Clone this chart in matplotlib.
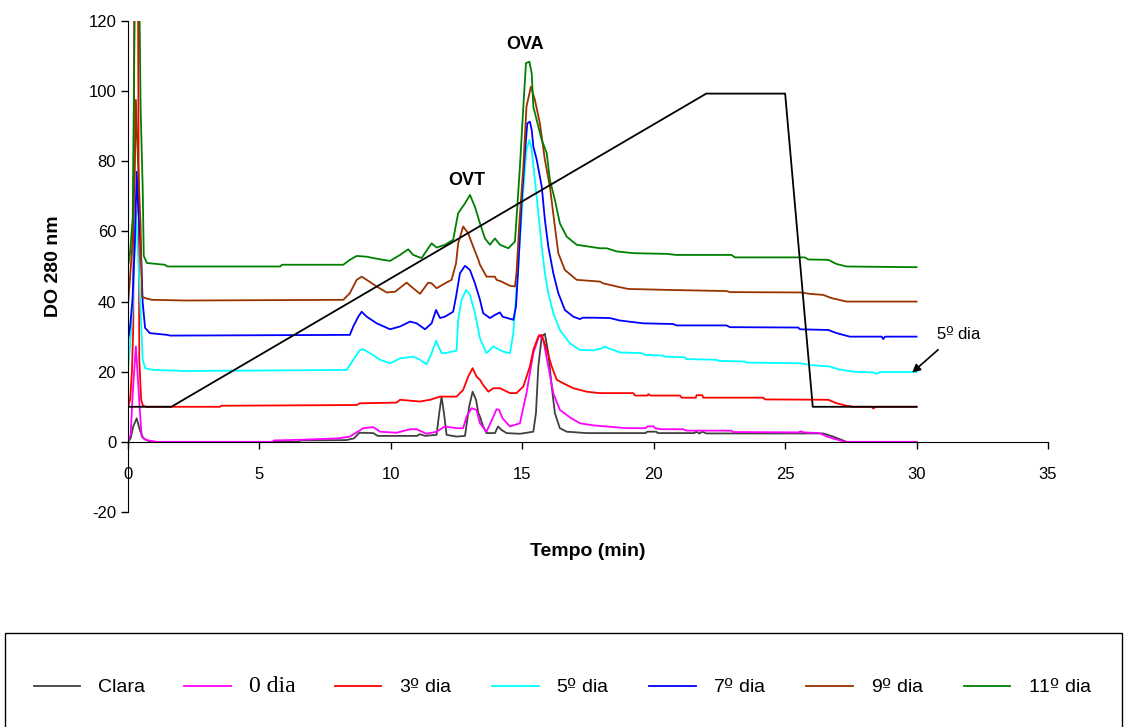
import matplotlib
matplotlib.use("Agg")
import matplotlib.pyplot as plt
from matplotlib.patches import Rectangle

plt.rcParams['font.family'] = ['Liberation Sans', 'DejaVu Sans']
plt.rcParams['axes.unicode_minus'] = False
# o "º" sublinhado vem da DejaVu Sans, via mathtext
plt.rcParams['mathtext.fontset'] = 'custom'
plt.rcParams['mathtext.rm'] = 'DejaVu Sans'

clara_t = [0, 0.1, 0.2, 0.33, 0.45, 0.58, 0.85, 6.5, 6.55, 8.3, 8.6, 8.8, 9.33, 9.5, 11.0, 11.1, 11.3,
           11.74, 11.84, 11.93, 12.02, 12.12, 12.5, 12.82, 12.98, 13.11, 13.24, 13.33, 13.39, 13.51, 13.64,
           13.96, 14.08, 14.21, 14.4, 14.91, 15.42, 15.52, 15.61, 15.74, 15.86, 15.99, 16.12, 16.24, 16.43,
           16.69, 17.45, 19.7, 19.75, 20.1, 20.15, 21.55, 21.6, 21.75, 21.85, 22.0, 26.45, 26.83, 27.34, 30]
clara_v = [0, 1, 4.4, 6.7, 3.4, 1, 0, 0, 0.4, 0.5, 1.0, 2.6, 2.5, 1.7, 1.7, 2.2, 1.7,
           2.0, 8.2, 12.9, 8.2, 2.0, 1.5, 1.7, 10.1, 14.3, 12, 8.2, 7.2, 4.4, 2.5,
           2.5, 4.4, 3.4, 2.5, 2.3, 2.9, 8.2, 21.5, 30, 30.8, 25.3, 15.8, 8.2, 3.9,
           2.9, 2.5, 2.5, 2.9, 2.9, 2.5, 2.5, 2.9, 2.4, 2.9, 2.4, 2.4, 1.5, 0, 0]

dia0_t = [0, 0.1, 0.18, 0.3, 0.45, 0.52, 0.7, 1.1, 5.5, 5.55, 6.6, 8.0, 8.44, 8.95, 9.33, 9.59, 10.22,
          10.73, 10.98, 11.36, 11.74, 12.06, 12.5, 12.75, 12.88, 13.07, 13.26, 13.39, 13.64, 13.9, 14.02,
          14.12, 14.25, 14.53, 14.91, 15.16, 15.42, 15.65, 15.8, 15.99, 16.18, 16.43, 16.81, 17.19, 17.7,
          18.97, 19.7, 19.76, 20.0, 20.05, 20.3, 21.12, 21.25, 22.96, 23.02, 25.5, 25.6, 25.7, 26.3,
          26.59, 27.27, 30]
dia0_v = [0, 2, 13.9, 27.2, 9, 1.5, 0.5, 0, 0, 0.4, 0.6, 1.0, 1.5, 3.9, 4.2, 2.9, 2.6,
          3.6, 3.6, 2.3, 2.9, 4.4, 3.9, 3.9, 7.2, 9.6, 9.1, 5.3, 2.9, 7.2, 9.3,
          9.1, 6.7, 4.4, 5.3, 13.9, 25.3, 30.5, 29.1, 21.5, 13.9, 9.1, 7.0, 5.3, 4.7,
          3.9, 3.9, 4.4, 4.4, 3.9, 3.6, 3.6, 3.2, 3.2, 2.8, 2.7, 3.0, 2.7, 2.5,
          1.5, 0, 0]

dia3_t = [0, 0.08, 0.15, 0.2, 0.24, 0.38, 0.43, 0.5, 0.57, 0.7, 3.5, 3.55, 8.7, 8.82, 10.22, 10.35,
          11.11, 11.49, 11.87, 12.5, 12.75, 12.94, 13.11, 13.26, 13.39, 13.51, 13.71, 13.9, 14.15, 14.53,
          14.78, 15.04, 15.29, 15.42, 15.61, 15.74, 15.93, 16.12, 16.31, 16.56, 16.94, 17.45, 17.95,
          19.22, 19.29, 19.75, 19.8, 19.88, 21.0, 21.06, 21.6, 21.63, 21.85, 21.88, 24.17, 24.23,
          26.64, 26.96, 27.34, 27.6, 28.3, 28.35, 28.45, 30]
dia3_v = [10, 12, 20, 33, 130, 130, 23.4, 12, 10.3, 10, 10, 10.3, 10.5, 11, 11.2, 12,
          11.5, 12, 12.9, 12.9, 14.8, 18.6, 21, 18.6, 17.7, 16.2, 14.3, 15.3, 15.3, 13.9,
          13.9, 15.8, 21.5, 26.2, 30, 30.5, 26.2, 21.5, 17.7, 16.7, 15.3, 14.3, 13.9,
          13.9, 13.2, 13.2, 13.6, 13.2, 13.2, 12.6, 12.6, 13.3, 13.3, 12.6, 12.6, 12.1,
          12, 11, 10.3, 10, 10, 9.5, 10, 10]

dia5_t = [0, 0.08, 0.17, 0.3, 0.48, 0.56, 0.65, 0.95, 1.9, 2.0, 8.32, 8.57, 8.82, 8.95, 9.2, 9.59,
          9.97, 10.35, 10.85, 11.11, 11.36, 11.55, 11.72, 11.93, 12.06, 12.5, 12.56, 12.69, 12.86, 13.01,
          13.2, 13.39, 13.64, 13.9, 14.02, 14.28, 14.53, 14.66, 14.78, 14.91, 15.04, 15.16, 15.27, 15.36,
          15.48, 15.61, 15.74, 15.86, 15.99, 16.18, 16.43, 16.81, 17.19, 17.7, 18.0, 18.14, 18.3, 18.46,
          18.71, 19.54, 19.67, 20.36, 20.4, 21.19, 21.25, 22.39, 22.45, 23.47, 23.53, 25.62, 25.94,
          26.7, 27.02, 27.59, 28.35, 28.48, 28.6, 30]
dia5_v = [20, 28, 37.6, 66, 37.6, 23.4, 21, 20.5, 20.3, 20.2, 20.5, 23.4, 26.2, 26.4, 25.3, 23.4,
          22.4, 23.8, 24.3, 23.4, 22.1, 25.3, 28.8, 25.3, 25.3, 26, 34.8, 40.5, 43.3, 41.9,
          36.7, 29.5, 25.3, 27.2, 26.7, 25.7, 25.3, 31, 43.3, 57.6, 71.8, 83.2, 86.1, 83.2,
          74.7, 65.2, 55.7, 48.1, 42.4, 36.7, 31.9, 28.1, 26.2, 26.1, 26.6, 27.2, 26.6, 26.2,
          25.5, 25.3, 24.8, 24.6, 24.3, 24.1, 23.6, 23.4, 23.1, 22.9, 22.6, 22.4, 21.9,
          21.5, 20.7, 20, 19.8, 19.4, 19.9, 19.9]

dia7_t = [0, 0.08, 0.17, 0.26, 0.33, 0.39, 0.48, 0.56, 0.65, 0.83, 1.5, 1.6, 8.44, 8.57, 8.76, 8.89,
          9.08, 9.46, 9.97, 10.35, 10.73, 10.98, 11.3, 11.55, 11.72, 11.87, 12.06, 12.37, 12.48, 12.63,
          12.82, 13.01, 13.2, 13.39, 13.51, 13.77, 13.96, 14.15, 14.25, 14.66, 14.76, 14.85, 14.98, 15.1,
          15.19, 15.29, 15.36, 15.42, 15.55, 15.74, 15.86, 15.99, 16.18, 16.37, 16.62, 16.94, 17.19,
          17.3, 17.7, 18.33, 18.71, 19.6, 20.74, 20.87, 22.77, 22.9, 25.5, 25.56, 26.64, 26.96, 27.46,
          28.68, 28.73, 28.8, 30]
dia7_v = [29, 32.9, 40.5, 56.6, 77, 66, 56.7, 39.6, 32.5, 31, 30.5, 30.3, 30.5, 32.9, 35.7, 37.1,
          35.7, 33.8, 32.1, 32.9, 34.3, 33.8, 32.1, 33.8, 37.6, 35.3, 35.7, 37.1, 41.4, 48.1,
          50.2, 49, 45.2, 40.5, 36.7, 35.3, 36.2, 36.9, 35.7, 34.8, 38.6, 50, 69, 82.3,
          90.8, 91.3, 88.9, 84.2, 80.4, 72.8, 63.3, 55.7, 48.1, 42.4, 37.6, 35.7, 35,
          35.4, 35.4, 35.3, 34.6, 33.8, 33.6, 33.2, 33.2, 32.7, 32.6, 32.1, 31.9, 31, 30,
          30, 29.3, 30, 30]

dia9_t = [0, 0.08, 0.17, 0.26, 0.3, 0.38, 0.48, 0.53, 0.65, 0.9, 2.2, 8.19, 8.44, 8.7, 8.89, 9.08,
          9.46, 9.84, 10.16, 10.6, 10.85, 11.11, 11.42, 11.55, 11.74, 12.06, 12.31, 12.48, 12.56, 12.75,
          12.94, 13.13, 13.33, 13.39, 13.64, 13.96, 14.02, 14.21, 14.53, 14.72, 14.78, 14.88, 15.04,
          15.16, 15.33, 15.48, 15.67, 15.86, 16.05, 16.24, 16.37, 16.62, 17.07, 17.95, 18.08, 18.59,
          19.03, 20.68, 22.77, 22.9, 25.6, 25.94, 26.45, 26.76, 27.34, 30]
dia9_v = [39, 47, 56.7, 77.5, 97.5, 80, 61.4, 41.4, 41, 40.5, 40.3, 40.5, 42.4, 46.2, 47.1, 46.2,
          44.3, 42.6, 42.8, 45.4, 43.8, 42.2, 45.4, 45.2, 43.8, 45.2, 46.2, 50.9, 56.6, 61.4,
          59.5, 55.7, 51.9, 50.5, 47.1, 47.1, 46.2, 45.7, 44.5, 44.3, 48.1, 61.4, 78.5,
          95.6, 101.3, 97.5, 90.8, 80.4, 72.8, 61.4, 53.8, 49, 46.2, 45.7, 45.2, 44.3,
          43.6, 43.3, 43, 42.7, 42.6, 42.2, 41.9, 41, 40, 40]

dia11_t = [0, 0.08, 0.18, 0.27, 0.42, 0.48, 0.56, 0.6, 0.72, 1.4, 1.5, 5.8, 5.85, 8.19, 8.44, 8.7,
           9.08, 9.33, 9.71, 9.97, 10.35, 10.66, 10.85, 11.17, 11.42, 11.55, 11.74, 12.06, 12.37, 12.56,
           12.82, 13.01, 13.2, 13.39, 13.58, 13.77, 13.96, 14.15, 14.47, 14.72, 14.81, 14.91, 15.04,
           15.14, 15.27, 15.36, 15.42, 15.61, 15.74, 15.93, 16.05, 16.24, 16.43, 16.69, 17.07, 17.95,
           18.21, 18.59, 19.22, 20.49, 20.87, 22.96, 23.09, 25.75, 25.88, 26.64, 26.96, 27.34, 30]
dia11_v = [50, 54, 64, 135, 135, 95, 72, 53, 51, 50.5, 50, 50, 50.5, 50.5, 51.9, 53,
           52.8, 52.4, 51.9, 51.6, 53.3, 54.9, 53.3, 52.4, 55.2, 56.6, 55.4, 56.2, 57.6, 65.2,
           68, 70.4, 67, 62.3, 58, 56.2, 58, 56.2, 55.2, 57.1, 67, 78.5, 95.6,
           108, 108.4, 105, 95.6, 89.9, 86.1, 82.3, 74.7, 69, 62.3, 58.5, 56.2, 55.2,
           55.2, 54.3, 53.8, 53.6, 53.3, 53.3, 52.6, 52.6, 52, 51.9, 50.7, 50, 49.8]

# gradiente de eluição
grad_t = [0, 1.65, 22.0, 25.0, 26.05, 30]
grad_v = [10, 10, 99.3, 99.3, 10, 10]

ORD = r'$\mathrm{º}$'
series = [
    (clara_t, clara_v, '#404040', 'Clara'),
    (dia0_t, dia0_v, '#FF00FF', '0 dia'),
    (dia3_t, dia3_v, '#FF0000', '3' + ORD + ' dia'),
    (dia5_t, dia5_v, '#00FFFF', '5' + ORD + ' dia'),
    (dia7_t, dia7_v, '#0000FF', '7' + ORD + ' dia'),
    (dia9_t, dia9_v, '#993300', '9' + ORD + ' dia'),
    (dia11_t, dia11_v, '#008000', '11' + ORD + ' dia'),
]

fig = plt.figure(figsize=(11.28, 7.27), dpi=100)
ax = fig.add_axes([128 / 1128, 1 - 512 / 727, 920 / 1128, 491 / 727])

handles = []
for t, v, c, lab in series:
    h, = ax.plot(t, v, color=c, lw=1.3, label=lab)
    handles.append(h)
ax.plot(grad_t, grad_v, color='black', lw=1.3)

ax.set_xlim(0, 35)
ax.set_ylim(-20, 120)
ax.set_xticks(range(0, 36, 5))
ax.set_yticks(range(-20, 121, 20))
ax.spines['top'].set_visible(False)
ax.spines['right'].set_visible(False)
ax.spines['bottom'].set_position(('data', 0))
ax.tick_params(axis='both', labelsize=12, direction='out', length=5, width=1)
ax.tick_params(axis='x', pad=13)

ax.set_xlabel('Tempo (min)', fontsize=14, fontweight='bold')
ax.xaxis.set_label_coords(0.5, -0.064)
ax.set_ylabel('DO 280 nm', fontsize=14, fontweight='bold')
ax.yaxis.set_label_coords(-0.072, 0.5)

ax.text(12.9, 74.5, 'OVT', fontsize=13, fontweight='bold', ha='center', va='center')
ax.text(15.1, 113.2, 'OVA', fontsize=13, fontweight='bold', ha='center', va='center')
ax.text(30.75, 31, '5' + ORD + ' dia', fontsize=12, ha='left', va='center')
ax.annotate('', xy=(29.75, 19.2), xytext=(30.9, 26.8),
            arrowprops=dict(arrowstyle='-|>', color='black', lw=1.2, mutation_scale=12))

# caixa da legenda
fig.add_artist(Rectangle((5 / 1128, 1 - 741 / 727), 1117 / 1128, 108 / 727,
                         transform=fig.transFigure, fill=False, ec='black', lw=1))
leg = fig.legend(handles=handles, loc='center', ncol=7, frameon=False, mode='expand',
                 bbox_to_anchor=(26 / 1128, 1 - 700 / 727, 1074 / 1128, 26 / 727),
                 fontsize=14, handlelength=2.4, handletextpad=0.9, borderaxespad=0)
for txt in leg.get_texts():
    if txt.get_text() == '0 dia':
        txt.set_fontfamily('Liberation Serif')
        txt.set_fontsize(17)

fig.savefig('out.png', dpi=100)
